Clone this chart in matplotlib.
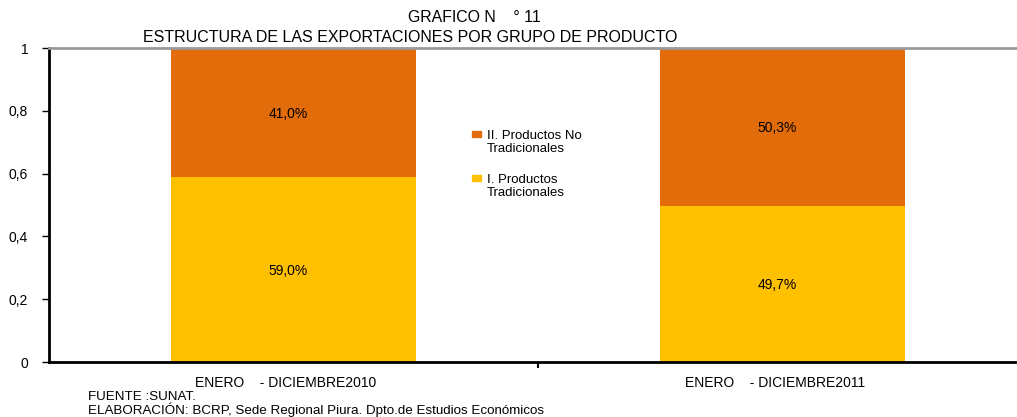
import numpy as np
import matplotlib.pyplot as plt
from matplotlib.patches import Rectangle

plt.rcParams['font.family'] = ['Liberation Sans', 'DejaVu Sans']

# data
periods = ["ENERO    - DICIEMBRE2010", "ENERO    - DICIEMBRE2011"]
tradicionales = [0.590, 0.497]
no_tradicionales = [0.410, 0.503]
series_labels = ["II. Productos No\nTradicionales", "I. Productos\nTradicionales"]
y_ticks = [0, 0.2, 0.4, 0.6, 0.8, 1]
y_labels = ["0", "0,2", "0,4", "0,6", "0,8", "1"]

COL_TRAD = '#FFC000'
COL_NOTRAD = '#E36C0A'

W, H = 1017, 417
fig = plt.figure(figsize=(W / 100, H / 100), dpi=100)
ax = fig.add_axes([49 / W, 55 / H, 978 / W, 314 / H])

x = np.arange(len(periods))
ax.bar(x, tradicionales, width=0.503, color=COL_TRAD)
ax.bar(x, no_tradicionales, width=0.503, bottom=tradicionales, color=COL_NOTRAD)

# etiquetas de cada segmento (un poco a la izquierda del centro, como en el original)
for i in range(len(periods)):
    ax.annotate(f"{tradicionales[i]*100:.1f}%".replace('.', ','),
                (x[i], tradicionales[i] / 2), xytext=(-4, -1), textcoords='offset points',
                ha='center', va='center', fontsize=10)
    ax.annotate(f"{no_tradicionales[i]*100:.1f}%".replace('.', ','),
                (x[i], tradicionales[i] + no_tradicionales[i] / 2), xytext=(-4, -1),
                textcoords='offset points', ha='center', va='center', fontsize=10)

ax.set_xlim(-0.5, 1.5)
ax.set_ylim(0, 1)
ax.set_yticks(y_ticks)
ax.set_yticklabels(y_labels, fontsize=10)
ax.set_xticks(x - 0.016)
ax.set_xticklabels(periods, fontsize=10)
ax.tick_params(axis='x', length=0, pad=10)
ax.set_xticks([0.5], minor=True)
ax.tick_params(axis='x', which='minor', length=4, width=1.5, direction='out')
ax.tick_params(axis='y', length=5, width=1, direction='out', pad=10)

ax.spines['right'].set_visible(False)
ax.spines['top'].set_color('#999999')
ax.spines['top'].set_linewidth(2)
ax.spines['left'].set_linewidth(2)
ax.spines['bottom'].set_linewidth(2)

fig.text(408 / W, 1 - 18 / H, "GRAFICO N    ° 11", ha='left', va='center', fontsize=11.4)
fig.text(143 / W, 1 - 38 / H, "ESTRUCTURA DE LAS EXPORTACIONES POR GRUPO DE PRODUCTO",
         ha='left', va='center', fontsize=11.5)

# leyenda dibujada a mano: cuadro alineado con la primera linea del texto
legend_cols = [COL_NOTRAD, COL_TRAD]
legend_y = [134, 178]
for lab, col, yy in zip(series_labels, legend_cols, legend_y):
    fig.add_artist(Rectangle((472 / W, 1 - (yy + 3) / H), 9 / W, 6 / H,
                             transform=fig.transFigure, color=col))
    fig.text(487 / W, 1 - (yy - 4) / H, lab, ha='left', va='top', fontsize=9.5,
             linespacing=1.1)

fig.text(88 / W, 1 - 397 / H, "FUENTE :SUNAT.", ha='left', va='center', fontsize=9.6)
fig.text(88 / W, 1 - 410 / H, "ELABORACIÓN: BCRP, Sede Regional Piura. Dpto.de Estudios Económicos",
         ha='left', va='center', fontsize=9.6)

fig.savefig("out.png", dpi=100)
